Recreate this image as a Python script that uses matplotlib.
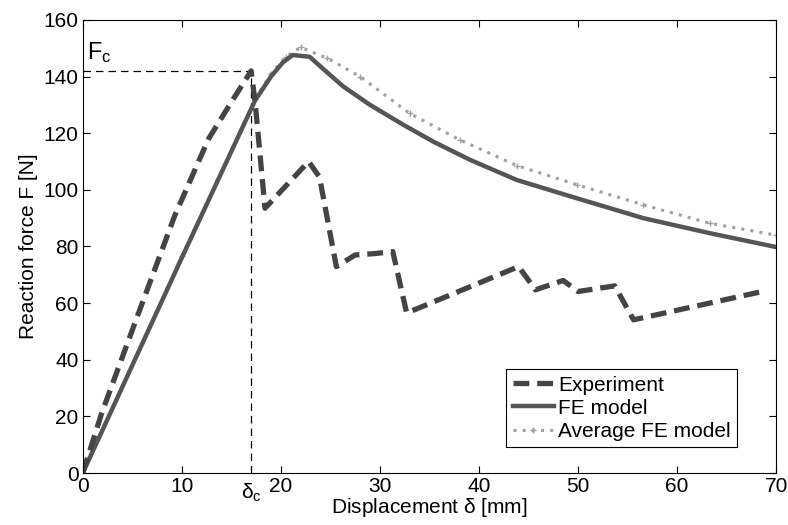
import numpy as np
from matplotlib import pyplot as plt

plt.rcParams['font.family'] = ['Liberation Sans', 'DejaVu Sans']
plt.rcParams['mathtext.default'] = 'regular'

# experiment (measured)
expX = [0, 1.9, 5.9, 9.3, 12.7, 15.0, 17.0, 17.4, 18.4, 22.8, 23.9, 25.6,
        27.5, 29.5, 31.3, 32.7, 44.0, 45.7, 48.5, 50.0, 53.7, 55.6, 68.6]
expY = [0, 21, 59, 91, 118, 131, 142, 131, 93.5, 110, 104.5, 72.9,
        77, 77.5, 78.2, 56.5, 72.9, 64.7, 68, 64.1, 66.1, 54.1, 64.1]

# FE model
feX = [0, 10, 17.4, 19, 20.2, 21.2, 22.9, 24.5, 26.3, 29.0, 32.4, 35.4, 39.1,
       43.8, 49.9, 56.6, 63.3, 70]
feY = [0, 76, 131.6, 140, 145, 147.6, 147, 142, 136.5, 130, 122.9, 117, 110.6,
       103.5, 97, 90, 84.7, 79.8]

# average FE model
avgX = [0, 10, 17.4, 19, 20.5, 22, 24.7, 28.0, 33.0, 38.1, 43.8, 49.9, 56.6,
        63.3, 70]
avgY = [0, 76.5, 132, 141, 147, 150.3, 146.5, 140, 127, 117.6, 108.6, 101.8,
        94.7, 88.2, 84]

deltaC = 17.0
Fc = 142.0

fig = plt.figure(figsize=(7.88, 5.25), dpi=100)
ax = fig.add_axes([0.105, 0.099, 0.880, 0.863])

ax.plot([0, deltaC], [Fc, Fc], color='k', lw=0.9, dashes=(6, 4))
ax.plot([deltaC, deltaC], [0, Fc], color='k', lw=0.9, dashes=(6, 4))

ax.plot(avgX, avgY, color='#a0a0a0', lw=2.2, ls=(0, (1, 2)),
        marker='+', markersize=4, markevery=1, label='Average FE model')
ax.plot(feX, feY, color='#555555', lw=3.2, label='FE model')
ax.plot(expX, expY, color='#444444', lw=3.8, dashes=(3, 1.5),
        label='Experiment')

ax.set_xlim(0, 70)
ax.set_ylim(0, 160)
ax.set_xticks(np.arange(0, 71, 10))
ax.set_yticks(np.arange(0, 161, 20))
ax.tick_params(direction='in', top=True, right=True, labelsize=15, length=5,
               pad=3)
ax.set_xlabel(r'Displacement $\delta$ [mm]', fontsize=15, labelpad=0)
ax.set_ylabel('Reaction force F [N]', fontsize=15, labelpad=4)

ax.text(0.4, 148.5, '$F_c$', fontsize=17, va='center')
ax.text(deltaC, -3.0, r'$\delta_c$', fontsize=15, ha='center', va='top')

h, l = ax.get_legend_handles_labels()
leg = ax.legend(h[::-1], l[::-1], loc='lower right', bbox_to_anchor=(0.944, 0.057),
                fontsize=15, fancybox=False, edgecolor='k', framealpha=1,
                handlelength=2.0, handletextpad=0.2, borderaxespad=0,
                labelspacing=0.2, borderpad=0.3)
leg.get_frame().set_linewidth(0.8)

plt.savefig('out.png', dpi=100)
